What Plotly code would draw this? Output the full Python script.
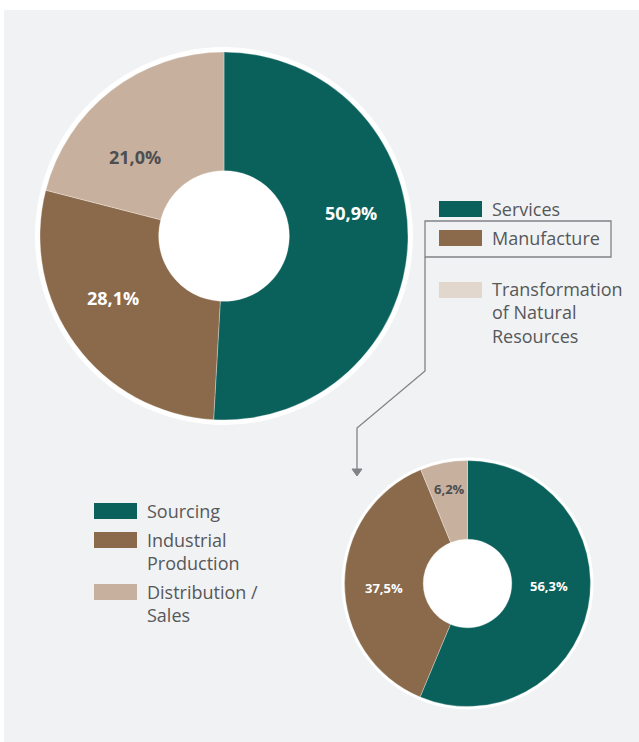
import plotly.graph_objects as go

W, H = 639, 742

# ---- data ----
main_labels = ["Services", "Manufacture", "Transformation of Natural Resources"]
main_values = [50.9, 28.1, 21.0]
main_text = ["50,9%", "28,1%", "21,0%"]

sub_labels = ["Sourcing", "Industrial Production", "Distribution / Sales"]
sub_values = [56.3, 37.5, 6.2]
sub_text = ["56,3%", "37,5%", "6,2%"]

main_legend = ["Services", "Manufacture", "Transformation<br>of Natural<br>Resources"]
sub_legend = ["Sourcing", "Industrial<br>Production", "Distribution /<br>Sales"]

TEAL = "#0a615b"
BROWN = "#8a6a4a"
TAN = "#c7b19e"
LIGHT = "#e1d7cd"
BG = "#f1f2f4"
TXT = "#56585a"
DARK = "#4d4e50"

FONT = "Open Sans"


def px(x):
    return x / W


def py(y):
    return 1 - y / H


def pie_domain(cx, cy, r):
    return dict(x=[px(cx - r), px(cx + r)], y=[py(cy + r), py(cy - r)])


fig = go.Figure()

# donuts: value labels placed as annotations (positions)
fig.add_trace(go.Pie(
    labels=main_labels, values=main_values, text=main_text,
    textinfo="none",
    sort=False, direction="clockwise", rotation=0, hole=0.355,
    marker=dict(colors=[TEAL, BROWN, TAN], line=dict(color="rgba(255,255,255,0.6)", width=0.5)),
    domain=pie_domain(224, 236, 184), showlegend=False, hoverinfo="label+text",
))

fig.add_trace(go.Pie(
    labels=sub_labels, values=sub_values, text=sub_text,
    textinfo="none",
    sort=False, direction="clockwise", rotation=0, hole=0.36,
    marker=dict(colors=[TEAL, BROWN, TAN], line=dict(color="rgba(255,255,255,0.6)", width=0.5)),
    domain=pie_domain(467.5, 583.5, 123), showlegend=False, hoverinfo="label+text",
))

shapes = []
# panel
shapes.append(dict(type="rect", xref="paper", yref="paper", x0=px(4), x1=px(W), y0=py(H), y1=py(10),
                   fillcolor=BG, line=dict(width=0), layer="below"))
# white discs behind pies (outer ring + hole)
for cx, cy, r in [(224, 236, 189), (467.5, 583.5, 126)]:
    shapes.append(dict(type="circle", xref="paper", yref="paper", x0=px(cx - r), x1=px(cx + r),
                       y0=py(cy + r), y1=py(cy - r), fillcolor="white", line=dict(width=0), layer="below"))

# legend swatches
main_colors = [TEAL, BROWN, LIGHT]
main_sw_y = [209, 238, 290]
for c, yc in zip(main_colors, main_sw_y):
    shapes.append(dict(type="rect", xref="paper", yref="paper", x0=px(439), x1=px(482),
                       y0=py(yc + 8), y1=py(yc - 8), fillcolor=c, line=dict(width=0)))
sub_colors = [TEAL, BROWN, TAN]
sub_sw_y = [511, 540, 592]
for c, yc in zip(sub_colors, sub_sw_y):
    shapes.append(dict(type="rect", xref="paper", yref="paper", x0=px(94), x1=px(137),
                       y0=py(yc + 8), y1=py(yc - 8), fillcolor=c, line=dict(width=0)))

# box around Manufacture
shapes.append(dict(type="rect", xref="paper", yref="paper", x0=px(425), x1=px(611),
                   y0=py(257), y1=py(221), line=dict(color="#808285", width=1.3)))
# connector
path = "M {} {} L {} {} L {} {} L {} {}".format(px(425), py(257), px(425), py(371),
                                                px(357), py(428), px(357), py(472))
shapes.append(dict(type="path", xref="paper", yref="paper", path=path,
                   line=dict(color="#808285", width=1.3)))
arrow = "M {} {} L {} {} L {} {} Z".format(px(352), py(469), px(362), py(469), px(357), py(476))
shapes.append(dict(type="path", xref="paper", yref="paper", path=arrow,
                   fillcolor="#808285", line=dict(color="#808285", width=1)))

annotations = []
lab_col = ["white", "white", DARK]
# big donut value labels
main_lab_pos = [(351, 213), (113, 298), (135, 157)]
for t, (x, y), c in zip(main_text, main_lab_pos, lab_col):
    annotations.append(dict(text="<b>" + t + "</b>", x=px(x), y=py(y), xref="paper", yref="paper",
                            xanchor="center", yanchor="middle", showarrow=False,
                            font=dict(family=FONT, size=18, color=c)))
# small donut value labels
sub_lab_pos = [(549, 586), (384, 588), (449, 489)]
for t, (x, y), c in zip(sub_text, sub_lab_pos, lab_col):
    annotations.append(dict(text="<b>" + t + "</b>", x=px(x), y=py(y), xref="paper", yref="paper",
                            xanchor="center", yanchor="middle", showarrow=False,
                            font=dict(family=FONT, size=13, color=c)))

main_txt_y = [209, 238, 312]
for t, yc in zip(main_legend, main_txt_y):
    annotations.append(dict(text=t, x=px(490), y=py(yc), xref="paper", yref="paper",
                            xanchor="left", yanchor="middle", align="left", showarrow=False,
                            font=dict(family=FONT, size=18, color=TXT)))
sub_txt_y = [511, 551, 603]
for t, yc in zip(sub_legend, sub_txt_y):
    annotations.append(dict(text=t, x=px(145), y=py(yc), xref="paper", yref="paper",
                            xanchor="left", yanchor="middle", align="left", showarrow=False,
                            font=dict(family=FONT, size=18, color=TXT)))

fig.update_layout(
    width=W, height=H, margin=dict(l=0, r=0, t=0, b=0),
    paper_bgcolor="white", plot_bgcolor="white",
    shapes=shapes, annotations=annotations,
    font=dict(family=FONT),
)

fig.write_html("out.html", config={"displayModeBar": False},
               post_script="document.body.style.margin='0';")
